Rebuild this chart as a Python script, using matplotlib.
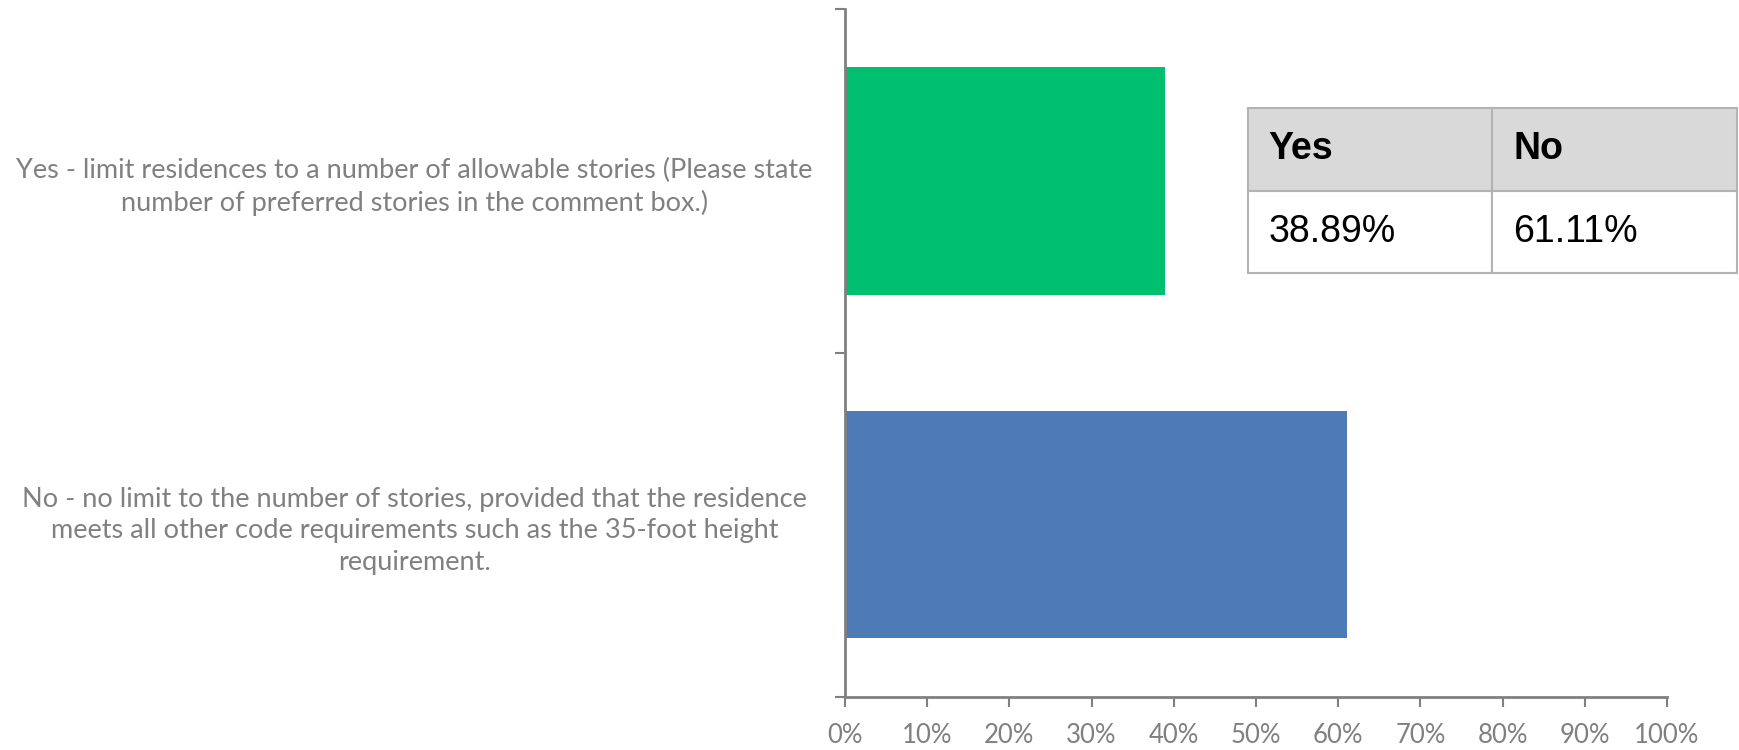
import matplotlib.pyplot as plt

# survey answers (top to bottom)
labels = [
    "Yes - limit residences to a number of allowable stories (Please state\nnumber of preferred stories in the comment box.)",
    "No - no limit to the number of stories, provided that the residence\nmeets all other code requirements such as the 35-foot height\nrequirement.",
]
values = [38.89, 61.11]
bar_colors = ["#00bf6f", "#4e7bb5"]
x_ticks = list(range(0, 101, 10))
table_header = ["Yes", "No"]
table_values = ["38.89%", "61.11%"]

gray = "#808080"

fig = plt.figure(figsize=(17.4, 7.5), dpi=100)
ax = fig.add_axes([0.4856, 0.0707, 0.9580 - 0.4856, 0.988 - 0.0707])

ypos = [1.5, 0.5]
ax.barh(ypos, values, height=0.66, color=bar_colors)

ax.set_xlim(0, 100)
ax.set_ylim(0, 2)
ax.set_xticks(x_ticks)
ax.set_xticklabels([f"{t}%" for t in x_ticks], fontsize=18.5, color=gray, family="Lato")
ax.set_yticks([0, 1, 2])
ax.set_yticklabels([])
ax.set_yticks(ypos, minor=True)
ax.set_yticklabels(labels, minor=True, fontsize=19.5, color=gray, family="Lato",
                   ha="center", linespacing=1.32)
ax.tick_params(axis="y", which="minor", length=0, pad=310)
ax.tick_params(axis="both", which="major", length=7, width=1.5, color=gray, direction="out")
ax.tick_params(axis="x", pad=12)

for side in ["top", "right"]:
    ax.spines[side].set_visible(False)
for side in ["left", "bottom"]:
    ax.spines[side].set_color(gray)
    ax.spines[side].set_linewidth(2)

# summary table
tax = fig.add_axes([0.7172, 0.636, 0.9983 - 0.7172, 0.856 - 0.636])
tax.axis("off")
tbl = tax.table(cellText=[table_header, table_values], bbox=[0, 0, 1, 1], cellLoc="left")
tbl.auto_set_font_size(False)
for (r, c), cell in tbl.get_celld().items():
    cell.set_edgecolor("#b3b3b3")
    cell.set_linewidth(1.5)
    cell.PAD = 0.085
    cell.get_text().set_fontsize(27)
    cell.get_text().set_family("Liberation Sans")
    if r == 0:
        cell.set_facecolor("#d9d9d9")
        cell.get_text().set_fontweight("bold")

fig.savefig("out.png", dpi=100)
